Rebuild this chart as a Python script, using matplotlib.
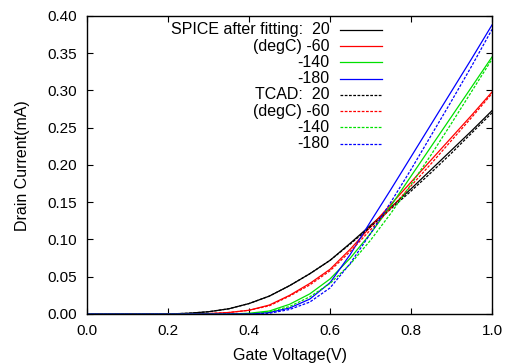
import matplotlib
matplotlib.use('Agg')
import matplotlib.pyplot as plt

plt.rcParams['font.family'] = ['Liberation Sans', 'DejaVu Sans']

# Gate voltage samples (V)
vg = [0.0, 0.05, 0.10, 0.15, 0.20, 0.25, 0.30, 0.35, 0.40, 0.45, 0.50,
      0.55, 0.60, 0.65, 0.70, 0.75, 0.80, 0.85, 0.90, 0.95, 1.00]

# SPICE after fitting, drain current (mA)
spice_20 = [0, 0, 0, 0, 0, 0.001, 0.003, 0.007, 0.014, 0.024, 0.038,
            0.054, 0.072, 0.095, 0.119, 0.143, 0.168, 0.194, 0.220, 0.246, 0.273]
spice_m60 = [0, 0, 0, 0, 0, 0, 0.0005, 0.002, 0.005, 0.012, 0.025,
             0.041, 0.060, 0.087, 0.117, 0.147, 0.177, 0.207, 0.237, 0.267, 0.298]
spice_m140 = [0, 0, 0, 0, 0, 0, 0, 0, 0.001, 0.004, 0.013,
              0.027, 0.047, 0.075, 0.108, 0.145, 0.185, 0.225, 0.265, 0.305, 0.345]
spice_m180 = [0, 0, 0, 0, 0, 0, 0, 0, 0, 0.002, 0.008,
              0.020, 0.042, 0.080, 0.124, 0.167, 0.211, 0.255, 0.299, 0.343, 0.388]

# TCAD, drain current (mA)
tcad_20 = [0, 0, 0, 0, 0, 0.001, 0.003, 0.007, 0.014, 0.024, 0.038,
           0.054, 0.072, 0.094, 0.117, 0.141, 0.165, 0.190, 0.216, 0.243, 0.270]
tcad_m60 = [0, 0, 0, 0, 0, 0, 0.0005, 0.002, 0.005, 0.011, 0.024,
            0.039, 0.058, 0.084, 0.113, 0.142, 0.172, 0.202, 0.233, 0.264, 0.296]
tcad_m140 = [0, 0, 0, 0, 0, 0, 0, 0, 0, 0.003, 0.010,
             0.023, 0.041, 0.067, 0.099, 0.135, 0.174, 0.214, 0.256, 0.299, 0.342]
tcad_m180 = [0, 0, 0, 0, 0, 0, 0, 0, 0, 0.001, 0.006,
             0.016, 0.035, 0.068, 0.108, 0.150, 0.194, 0.240, 0.286, 0.333, 0.382]

spice_labels = ['SPICE after fitting:  20', '(degC) -60', '-140', '-180']
tcad_labels = ['TCAD:  20', '(degC) -60', '-140', '-180']
colors = ['#000000', '#ff0000', '#00e000', '#0000ff']

fig = plt.figure(figsize=(5.12, 3.63), dpi=100)
ax = fig.add_axes([0.170, 0.135, 0.791, 0.821])

spice = [spice_20, spice_m60, spice_m140, spice_m180]
tcad = [tcad_20, tcad_m60, tcad_m140, tcad_m180]
dash = (0, (2.2, 1.2))

for ys, c in zip(spice, colors):
    ax.plot(vg, ys, color=c, lw=0.9, solid_joinstyle='round')
for ys, c in zip(tcad, colors):
    ax.plot(vg, ys, color=c, lw=0.9, linestyle=dash)

# gnuplot style key: right aligned text, sample line to the right
labels = spice_labels + tcad_labels
styles = ['-'] * 4 + [dash] * 4
row_y = 0.953
for i, (lab, st, c) in enumerate(zip(labels, styles, colors + colors)):
    y = row_y - i * 0.0545
    ax.text(0.599, y, lab, transform=ax.transAxes, ha='right', va='center',
            fontsize=11.5)
    ax.plot([0.625, 0.728], [y, y], transform=ax.transAxes, color=c,
            lw=0.9, linestyle=st)

ax.set_xlim(0, 1.0)
ax.set_ylim(0, 0.40)
ax.set_xticks([0.0, 0.2, 0.4, 0.6, 0.8, 1.0])
ax.set_yticks([0.0, 0.05, 0.10, 0.15, 0.20, 0.25, 0.30, 0.35, 0.40])
ax.xaxis.set_major_formatter(matplotlib.ticker.FormatStrFormatter('%.1f'))
ax.yaxis.set_major_formatter(matplotlib.ticker.FormatStrFormatter('%.2f'))
ax.tick_params(direction='in', length=4, width=0.8, top=True, right=True,
               labelsize=11, pad=7)
for s in ax.spines.values():
    s.set_linewidth(1.0)

fig.text(0.043, 0.545, 'Drain Current(mA)', rotation=90, ha='center',
         va='center', fontsize=11.5)
fig.text(0.566, 0.022, 'Gate Voltage(V)', ha='center', va='center',
         fontsize=11.5)

fig.savefig('out.png', dpi=100)
